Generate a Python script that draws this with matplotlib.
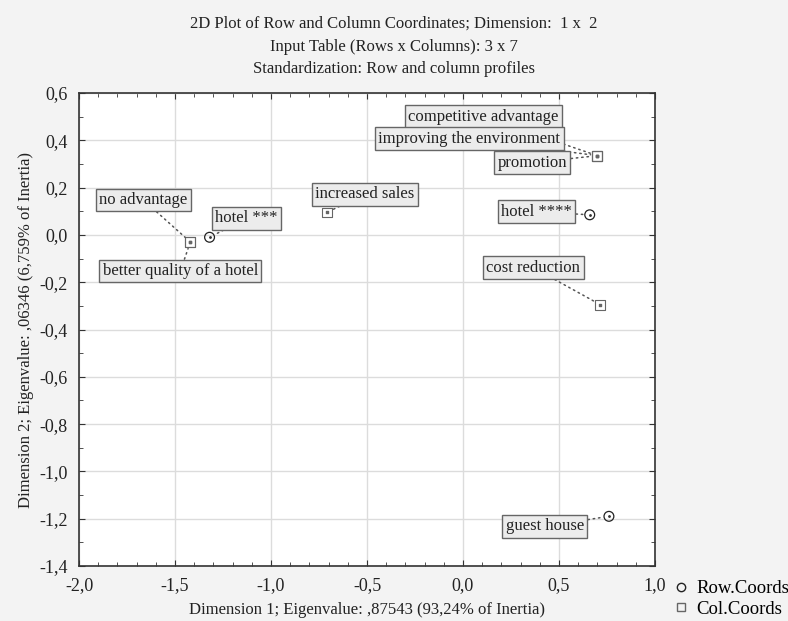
import matplotlib
matplotlib.use('Agg')
import matplotlib.pyplot as plt
from matplotlib.ticker import MultipleLocator, FuncFormatter
from matplotlib.lines import Line2D

plt.rcParams['font.family'] = ['Liberation Serif', 'DejaVu Serif']

# Row coordinates (hotel categories)
row_labels = ['hotel ***', 'hotel ****', 'guest house']
row_x = [-1.32, 0.66, 0.76]
row_y = [-0.01, 0.085, -1.19]

# Column coordinates (effects)
col_labels = ['no advantage', 'better quality of a hotel', 'increased sales',
              'competitive advantage', 'improving the environment', 'promotion',
              'cost reduction']
col_x = [-1.42, -1.42, -0.71, 0.70, 0.70, 0.70, 0.715]
col_y = [-0.03, -0.03, 0.095, 0.335, 0.335, 0.335, -0.295]

# label offsets in pixels (label centre relative to point)
row_offsets = [(37, 19), (-53, 3), (-64, -10)]
col_offsets = [(-47, 42), (-10, -29), (38, 18), (-114, 39), (-128, 17),
               (-65, -7), (-67, 37)]

fig = plt.figure(figsize=(7.88, 6.21), dpi=100, facecolor='#f3f3f3')
ax = fig.add_axes([79 / 788, 1 - 566 / 621, 576 / 788, 473 / 621])
ax.set_facecolor('white')

ax.scatter(row_x, row_y, s=50, marker='o', facecolors='none',
           edgecolors='#222222', linewidths=0.9, zorder=4)
ax.scatter(row_x, row_y, s=1, marker='o', color='#333333', zorder=5)
ax.scatter(col_x, col_y, s=50, marker='s', facecolors='none',
           edgecolors='#666666', linewidths=0.8, zorder=4)
ax.scatter(col_x, col_y, s=0.8, marker='s', color='#666666', zorder=5)

box = dict(boxstyle='square,pad=0.2', facecolor='#ececec', edgecolor='#666666',
           linewidth=1.0)
leader = dict(arrowstyle='-', linestyle=(0, (1, 2.5)), color='#555555',
              linewidth=1.1, shrinkA=0, shrinkB=5)

for lab, x, y, off in zip(row_labels + col_labels, row_x + col_x,
                          row_y + col_y, row_offsets + col_offsets):
    ax.annotate(lab, xy=(x, y), xytext=off, textcoords='offset pixels',
                ha='center', va='center', fontsize=12, color='#222222',
                bbox=box, arrowprops=leader, zorder=6)

ax.set_xlim(-2.0, 1.0)
ax.set_ylim(-1.4, 0.6)
ax.xaxis.set_major_locator(MultipleLocator(0.5))
ax.xaxis.set_minor_locator(MultipleLocator(0.1))
ax.yaxis.set_major_locator(MultipleLocator(0.2))
ax.yaxis.set_minor_locator(MultipleLocator(0.1))
comma = FuncFormatter(lambda v, p: ('%.1f' % v).replace('.', ',').replace('-0,0', '0,0'))
ax.xaxis.set_major_formatter(comma)
ax.yaxis.set_major_formatter(comma)
ax.tick_params(which='both', direction='in', top=True, right=True,
               color='#333333', labelsize=13, labelcolor='#222222')
ax.tick_params(which='major', length=4, pad=8)
ax.tick_params(which='minor', length=3)
ax.grid(True, which='major', color='#dcdcdc', linewidth=1.0)
ax.set_axisbelow(True)
for s in ax.spines.values():
    s.set_color('#333333')
    s.set_linewidth(1.2)

ax.set_xlabel('Dimension 1; Eigenvalue: ,87543 (93,24% of Inertia)',
              fontsize=12, color='#222222', labelpad=6)
ax.set_ylabel('Dimension 2; Eigenvalue: ,06346 (6,759% of Inertia)',
              fontsize=12, color='#222222', labelpad=4)

fig.text(0.5, 1 - 24 / 621, '2D Plot of Row and Column Coordinates; Dimension:  1 x  2',
         ha='center', va='center', fontsize=12, color='#222222')
fig.text(0.5, 1 - 47 / 621, 'Input Table (Rows x Columns): 3 x 7',
         ha='center', va='center', fontsize=12, color='#222222')
fig.text(0.5, 1 - 69 / 621, 'Standardization: Row and column profiles',
         ha='center', va='center', fontsize=12, color='#222222')

handles = [Line2D([], [], marker='o', linestyle='none', markerfacecolor='none',
                  markeredgecolor='#222222', markersize=6),
           Line2D([], [], marker='s', linestyle='none', markerfacecolor='none',
                  markeredgecolor='#666666', markersize=6)]
fig.legend(handles, ['Row.Coords', 'Col.Coords'], loc='center left',
           bbox_to_anchor=(675 / 788, 1 - 599 / 621), frameon=False,
           fontsize=13.5, handlelength=0.6, handletextpad=0.55, labelspacing=0.2,
           borderpad=0, borderaxespad=0)

fig.savefig('out.png', dpi=100, facecolor=fig.get_facecolor())
